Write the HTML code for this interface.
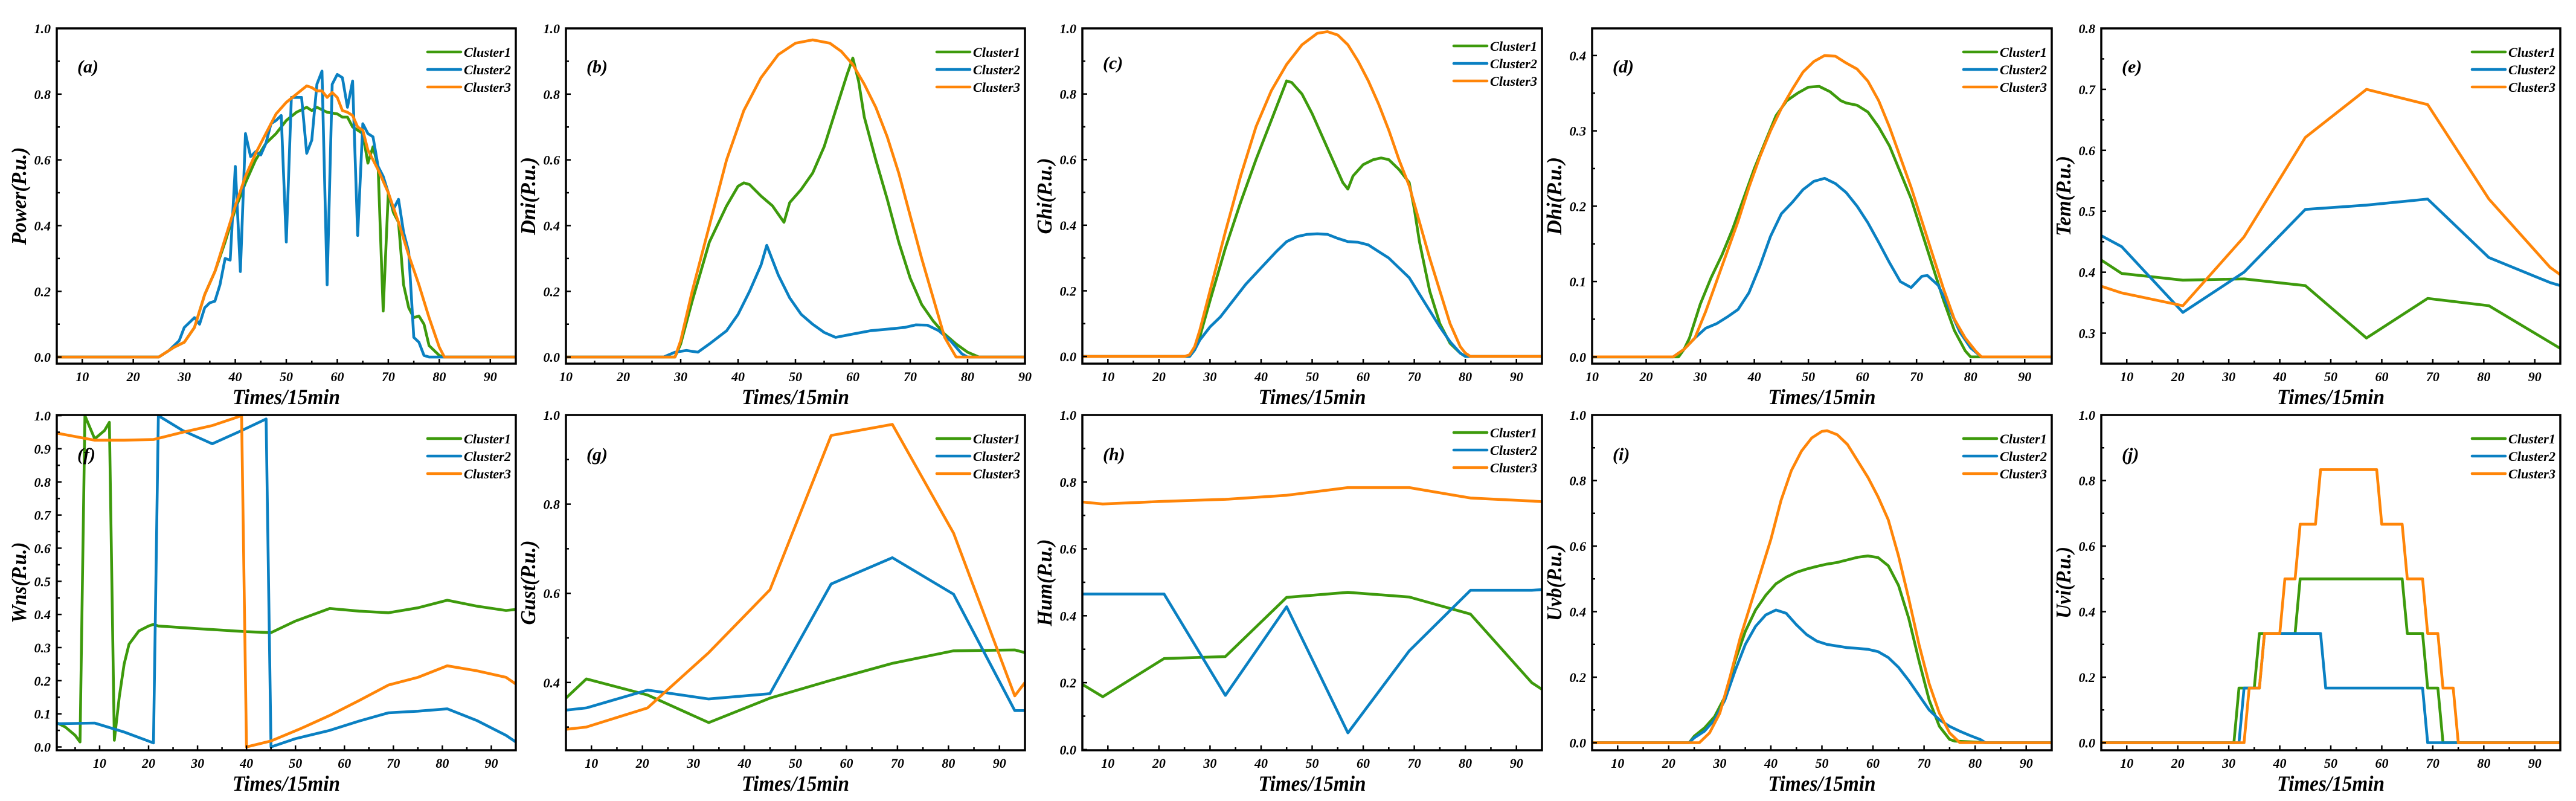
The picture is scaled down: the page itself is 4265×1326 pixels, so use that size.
<!DOCTYPE html>
<html><head><meta charset="utf-8"><title>Cluster profiles</title>
<style>
html,body{margin:0;padding:0;background:#fff;}
svg{display:block;font-family:"Liberation Serif",serif;font-weight:bold;font-style:italic;}
</style></head>
<body>
<svg id="fig" width="4265" height="1326" viewBox="0 0 4265 1326" xmlns="http://www.w3.org/2000/svg"></svg>
<script>
// ---------- data (time index, value) ----------
const powerC1=[[1,0],[25,0],[28,0.03],[30,0.045],[32,0.09],[34,0.19],[36,0.26],[38,0.35],[40,0.45],[42,0.53],[44,0.6],[46,0.65],[48,0.68],[50,0.72],[52,0.745],[54,0.76],[55,0.75],[56,0.76],[58,0.745],[60,0.74],[61,0.73],[62,0.73],[63,0.7],[65,0.68],[66,0.59],[67,0.64],[68,0.58],[69,0.14],[70,0.5],[71,0.44],[72,0.41],[73,0.22],[74,0.15],[75,0.12],[76,0.125],[77,0.1],[78,0.035],[80,0.005],[81,0],[96,0]];
const powerC2=[[1,0],[25,0],[27,0.02],[29,0.05],[30,0.09],[32,0.12],[33,0.1],[34,0.15],[35,0.165],[36,0.17],[37,0.22],[38,0.3],[39,0.295],[40,0.58],[41,0.26],[42,0.68],[43,0.61],[44,0.625],[45,0.615],[46,0.65],[47,0.71],[48,0.72],[49,0.735],[50,0.35],[51,0.79],[52,0.79],[53,0.79],[54,0.62],[55,0.66],[56,0.83],[57,0.87],[58,0.22],[59,0.83],[60,0.86],[61,0.85],[62,0.76],[63,0.84],[64,0.37],[65,0.71],[66,0.68],[67,0.67],[68,0.58],[69,0.55],[70,0.5],[71,0.45],[72,0.48],[73,0.38],[74,0.32],[75,0.06],[76,0.045],[77,0.005],[78,0],[96,0]];
const powerC3=[[1,0],[25,0],[28,0.03],[30,0.045],[32,0.09],[34,0.19],[36,0.26],[38,0.36],[40,0.46],[42,0.55],[44,0.62],[46,0.68],[48,0.74],[50,0.775],[52,0.8],[54,0.825],[55,0.82],[56,0.81],[57,0.81],[58,0.79],[59,0.805],[60,0.79],[61,0.75],[62,0.745],[63,0.735],[64,0.7],[65,0.69],[66,0.63],[68,0.57],[70,0.5],[72,0.41],[74,0.31],[76,0.22],[78,0.12],[80,0.03],[81,0],[96,0]];

const dniC1=[[1,0],[29,0],[30,0.04],[32,0.17],[35,0.35],[38,0.46],[40,0.52],[41,0.53],[42,0.525],[44,0.49],[46,0.46],[48,0.41],[49,0.47],[51,0.51],[53,0.56],[55,0.64],[57,0.75],[59,0.86],[60,0.91],[61,0.84],[62,0.73],[64,0.6],[66,0.48],[68,0.35],[70,0.24],[72,0.16],[74,0.11],[76,0.07],[78,0.04],[80,0.015],[82,0],[96,0]];
const dniC2=[[1,0],[27,0],[29,0.015],[31,0.02],[33,0.015],[35,0.04],[38,0.08],[40,0.13],[42,0.2],[44,0.28],[45,0.34],[47,0.25],[49,0.18],[51,0.13],[53,0.1],[55,0.075],[57,0.06],[60,0.07],[63,0.08],[66,0.085],[69,0.09],[71,0.098],[73,0.097],[75,0.08],[77,0.05],[79,0.01],[80,0],[96,0]];
const dniC3=[[1,0],[29,0],[30,0.05],[32,0.2],[35,0.4],[38,0.6],[41,0.75],[44,0.85],[47,0.92],[50,0.955],[53,0.965],[56,0.955],[58,0.93],[60,0.89],[62,0.83],[64,0.76],[66,0.67],[68,0.56],[70,0.43],[72,0.3],[74,0.18],[76,0.06],[78,0],[96,0]];

const ghiC1=[[1,0],[26,0],[27,0.02],[28,0.06],[30,0.17],[33,0.33],[36,0.47],[39,0.6],[42,0.72],[44,0.8],[45,0.84],[46,0.835],[48,0.8],[50,0.74],[52,0.67],[54,0.6],[56,0.53],[57,0.51],[58,0.55],[60,0.585],[62,0.6],[63.5,0.605],[65,0.6],[67,0.57],[69,0.53],[70,0.45],[71,0.35],[73,0.2],[75,0.1],[77,0.04],[79,0.01],[80,0],[96,0]];
const ghiC2=[[1,0],[26,0],[27,0.02],[28,0.05],[30,0.09],[32,0.12],[34,0.16],[37,0.22],[40,0.27],[43,0.32],[45,0.35],[47,0.365],[49,0.372],[51,0.374],[53,0.372],[55,0.36],[57,0.35],[59,0.348],[61,0.34],[63,0.32],[65,0.3],[67,0.27],[69,0.24],[71,0.19],[73,0.14],[75,0.09],[77,0.045],[79,0.01],[80,0],[96,0]];
const ghiC3=[[1,0],[25,0],[26,0.005],[27,0.03],[28,0.08],[30,0.2],[33,0.38],[36,0.55],[39,0.7],[42,0.81],[45,0.89],[48,0.95],[51,0.985],[53,0.99],[55,0.98],[57,0.95],[59,0.9],[61,0.84],[63,0.77],[65,0.69],[67,0.6],[69,0.52],[71,0.41],[73,0.3],[75,0.2],[77,0.1],[79,0.03],[80,0.01],[81,0],[96,0]];

const dhiC1=[[1,0],[26,0],[27,0.01],[28,0.025],[30,0.07],[32,0.105],[34,0.135],[36,0.17],[38,0.21],[40,0.25],[42,0.285],[44,0.32],[46,0.34],[48,0.35],[50,0.358],[52,0.359],[54,0.352],[56,0.34],[57,0.337],[59,0.334],[61,0.325],[63,0.305],[65,0.28],[67,0.245],[69,0.21],[71,0.165],[73,0.12],[75,0.075],[77,0.035],[79,0.008],[80,0],[96,0]];
const dhiC2=[[1,0],[25,0],[27,0.01],[29,0.025],[31,0.038],[33,0.044],[35,0.053],[37,0.063],[39,0.085],[41,0.12],[43,0.16],[45,0.19],[47,0.205],[49,0.222],[51,0.233],[53,0.237],[55,0.23],[57,0.218],[59,0.2],[61,0.178],[63,0.152],[65,0.125],[67,0.1],[69,0.092],[71,0.107],[72,0.108],[74,0.095],[76,0.065],[78,0.033],[80,0.012],[82,0],[96,0]];
const dhiC3=[[1,0],[25,0],[27,0.01],[29,0.025],[31,0.06],[33,0.1],[35,0.14],[37,0.18],[39,0.225],[41,0.265],[43,0.3],[45,0.33],[47,0.355],[49,0.378],[51,0.392],[53,0.4],[55,0.399],[57,0.39],[59,0.382],[61,0.366],[63,0.34],[65,0.305],[67,0.265],[69,0.225],[71,0.18],[73,0.135],[75,0.09],[77,0.05],[79,0.025],[81,0.007],[82,0],[96,0]];

const temC1=[[5,0.42],[9,0.398],[21,0.387],[33,0.389],[45,0.378],[57,0.292],[69,0.357],[81,0.345],[93,0.285],[95,0.275]];
const temC2=[[5,0.46],[9,0.442],[21,0.334],[33,0.4],[45,0.503],[57,0.51],[69,0.52],[81,0.424],[93,0.383],[95,0.378]];
const temC3=[[5,0.377],[9,0.366],[21,0.345],[33,0.458],[45,0.621],[57,0.7],[69,0.675],[81,0.52],[93,0.408],[95,0.396]];

const wnsC1=[[1,0.075],[3,0.06],[5,0.035],[6,0.015],[7,1.0],[9,0.93],[11,0.955],[12,0.98],[13,0.02],[14,0.15],[15,0.25],[16,0.31],[18,0.35],[20,0.365],[21,0.37],[22,0.365],[30,0.357],[40,0.348],[45,0.345],[50,0.38],[57,0.418],[63,0.41],[69,0.405],[75,0.42],[81,0.443],[87,0.425],[93,0.412],[95,0.415]];
const wnsC2=[[1,0.07],[9,0.072],[15,0.045],[21,0.012],[22,1.0],[27,0.955],[33,0.915],[39,0.955],[44,0.99],[45,0.0],[50,0.025],[57,0.05],[63,0.078],[69,0.103],[75,0.108],[81,0.115],[87,0.08],[93,0.035],[95,0.015]];
const wnsC3=[[1,0.948],[9,0.926],[15,0.926],[21,0.928],[27,0.95],[33,0.97],[36,0.985],[39,1.0],[40,0.0],[45,0.018],[51,0.055],[57,0.095],[63,0.14],[69,0.187],[75,0.21],[81,0.245],[87,0.23],[93,0.21],[95,0.19]];

const gustC1=[[5,0.365],[9,0.408],[21,0.372],[33,0.31],[45,0.365],[57,0.405],[69,0.443],[81,0.471],[93,0.473],[95,0.467]];
const gustC2=[[5,0.338],[9,0.343],[21,0.383],[33,0.363],[45,0.375],[57,0.621],[69,0.68],[81,0.598],[93,0.337],[95,0.337]];
const gustC3=[[5,0.295],[9,0.3],[21,0.343],[33,0.467],[45,0.608],[57,0.954],[69,0.979],[81,0.735],[93,0.37],[95,0.4]];

const humC1=[[5,0.195],[9,0.158],[21,0.272],[33,0.278],[45,0.455],[57,0.47],[69,0.456],[81,0.405],[93,0.2],[95,0.18]];
const humC2=[[5,0.465],[21,0.465],[33,0.162],[45,0.427],[57,0.05],[69,0.295],[81,0.476],[93,0.476],[95,0.478]];
const humC3=[[5,0.74],[9,0.734],[21,0.742],[33,0.748],[45,0.76],[57,0.783],[69,0.783],[81,0.752],[93,0.743],[95,0.741]];

const uvbC1=[[1,0],[24,0],[25,0.02],[27,0.045],[29,0.08],[31,0.14],[33,0.25],[35,0.34],[37,0.405],[39,0.45],[41,0.485],[43,0.505],[45,0.52],[47,0.53],[49,0.538],[51,0.545],[53,0.55],[55,0.558],[57,0.566],[59,0.57],[61,0.565],[63,0.54],[65,0.48],[67,0.38],[69,0.25],[71,0.13],[73,0.05],[75,0.01],[76,0.005],[80,0.002],[82,0],[96,0]];
const uvbC2=[[1,0],[24,0],[25,0.015],[27,0.035],[29,0.07],[31,0.13],[33,0.22],[35,0.3],[37,0.355],[39,0.39],[41,0.405],[43,0.395],[45,0.36],[47,0.33],[49,0.31],[51,0.3],[53,0.295],[55,0.29],[57,0.288],[59,0.285],[61,0.278],[63,0.26],[65,0.23],[67,0.19],[69,0.145],[71,0.1],[73,0.07],[75,0.05],[77,0.035],[79,0.022],[81,0.01],[82,0],[96,0]];
const uvbC3=[[1,0],[26,0],[28,0.03],[30,0.09],[32,0.2],[34,0.32],[36,0.42],[38,0.52],[40,0.62],[42,0.74],[44,0.83],[46,0.89],[48,0.93],[50,0.95],[51,0.952],[53,0.94],[55,0.91],[57,0.86],[59,0.81],[61,0.75],[63,0.68],[65,0.57],[67,0.44],[69,0.3],[71,0.18],[73,0.09],[75,0.03],[77,0],[96,0]];

const uviC1=[[1,0],[31,0],[32,0.1667],[35,0.1667],[36,0.3333],[43,0.3333],[44,0.5],[64,0.5],[65,0.3333],[68,0.3333],[69,0.1667],[71,0.1667],[72,0],[96,0]];
const uviC2=[[1,0],[32,0],[33,0.1667],[36,0.1667],[37,0.3333],[48,0.3333],[49,0.1667],[68,0.1667],[69,0],[96,0]];
const uviC3=[[1,0],[33,0],[34,0.1667],[36,0.1667],[37,0.3333],[40,0.3333],[41,0.5],[43,0.5],[44,0.6667],[47,0.6667],[48,0.8333],[59,0.8333],[60,0.6667],[64,0.6667],[65,0.5],[68,0.5],[69,0.3333],[71,0.3333],[72,0.1667],[74,0.1667],[75,0],[96,0]];

const seriesNames=['Cluster1','Cluster2','Cluster3'];
const xTickLabels=[10,20,30,40,50,60,70,80,90];

// ---------- layout ----------
const colors=['#3d9a0c','#0a80c2','#ff8508'];
const T1=47,B1=602,T2=687,B2=1242;
const C=[[94,854],[937,1697],[1792,2553],[2636,3397],[3479,4239]];
const panels=[
 {key:'power',lab:'(a)',yl:'Power(P.u.)',ylw:162,box:[C[0][0],T1,C[0][1],B1],xr:[5,95],yr:[-0.02,1.0],yt:[0,1,0.2,0.1],data:[powerC1,powerC2,powerC3],leg:39,labY:73},
 {key:'dni',lab:'(b)',yl:'Dni(P.u.)',ylw:129,box:[C[1][0],T1,C[1][1],B1],xr:[10,90],yr:[-0.02,1.0],yt:[0,1,0.2,0.1],data:[dniC1,dniC2,dniC3],leg:39,labY:73},
 {key:'ghi',lab:'(c)',yl:'Ghi(P.u.)',ylw:126,box:[C[2][0],T1,C[2][1],B1],xr:[5,95],yr:[-0.022,1.0],yt:[0,1,0.2,0.1],data:[ghiC1,ghiC2,ghiC3],leg:29,labY:67},
 {key:'dhi',lab:'(d)',yl:'Dhi(P.u.)',ylw:129,box:[C[3][0],T1,C[3][1],B1],xr:[10,95],yr:[-0.009,0.436],yt:[0,0.4,0.1,0.05],data:[dhiC1,dhiC2,dhiC3],leg:39,labY:73},
 {key:'tem',lab:'(e)',yl:'Tem(P.u.)',ylw:133,box:[C[4][0],T1,C[4][1],B1],xr:[5,95],yr:[0.25,0.8],yt:[0.3,0.8,0.1,0.05],data:[temC1,temC2,temC3],leg:39,labY:73},
 {key:'wns',lab:'(f)',yl:'Wns(P.u.)',ylw:134,box:[C[0][0],T2,C[0][1],B2],xr:[1.25,95],yr:[-0.01,1.002],yt:[0,1,0.1,0.05],data:[wnsC1,wnsC2,wnsC3],leg:39,labY:75},
 {key:'gust',lab:'(g)',yl:'Gust(P.u.)',ylw:140,box:[C[1][0],T2,C[1][1],B2],xr:[5,95],yr:[0.248,1.0],yt:[0.4,1,0.2,0.1],data:[gustC1,gustC2,gustC3],leg:39,labY:75},
 {key:'hum',lab:'(h)',yl:'Hum(P.u.)',ylw:144,box:[C[2][0],T2,C[2][1],B2],xr:[5,95],yr:[-0.002,1.0],yt:[0,1,0.2,0.1],data:[humC1,humC2,humC3],leg:29,labY:75},
 {key:'uvb',lab:'(i)',yl:'Uvb(P.u.)',ylw:127,box:[C[3][0],T2,C[3][1],B2],xr:[5,95],yr:[-0.023,1.0],yt:[0,1,0.2,0.1],data:[uvbC1,uvbC2,uvbC3],leg:39,labY:75},
 {key:'uvi',lab:'(j)',yl:'Uvi(P.u.)',ylw:119,box:[C[4][0],T2,C[4][1],B2],xr:[5,95],yr:[-0.023,1.0],yt:[0,1,0.2,0.1],data:[uviC1,uviC2,uviC3],leg:39,labY:75}
];

const NS='http://www.w3.org/2000/svg';
const svg=document.getElementById('fig');
function mk(tag,attrs,parent){const e=document.createElementNS(NS,tag);for(const k in attrs)e.setAttribute(k,attrs[k]);(parent||svg).appendChild(e);return e;}
const defs=mk('defs',{});

panels.forEach(p=>{
  const [L,T,R,B]=p.box;
  const sx=v=>L+(v-p.xr[0])/(p.xr[1]-p.xr[0])*(R-L);
  const sy=v=>B-(v-p.yr[0])/(p.yr[1]-p.yr[0])*(B-T);
  const g=mk('g',{});
  
  
  const cp=mk('clipPath',{id:'clip-'+p.key},defs);
  mk('rect',{x:L,y:T,width:R-L,height:B-T},cp);

  const lines=mk('g',{'clip-path':'url(#clip-'+p.key+')'},g);
  
  
  p.data.forEach((s,i)=>{
    const pts=s.map(d=>sx(d[0]).toFixed(1)+','+sy(d[1]).toFixed(1)).join(' ');
    const pl=mk('polyline',{points:pts,fill:'none',stroke:colors[i],'stroke-width':4.6,'stroke-linejoin':'round','stroke-linecap':'butt'},lines);
    
    
  });

  for(let v=5;v<=95;v+=5){
    if(v<p.xr[0]-0.01||v>p.xr[1]+0.01)continue;
    const major=v%10===0;
    const x=sx(v);
    const tk=mk('line',{x1:x,x2:x,y1:B,y2:B-(major?8:5),stroke:'#000','stroke-width':2.5},g);
    
    
  }
  xTickLabels.forEach(v=>{
    if(v<p.xr[0]-0.01||v>p.xr[1]+0.01)return;
    const t=mk('text',{x:sx(v),y:B+29,'font-size':22,'text-anchor':'middle'},g);
    t.textContent=String(v);
    
    
  });
  const [y0,y1,ymaj,ymin]=p.yt;
  const n=Math.round((y1-y0)/ymin);
  for(let k=-2;k<=n;k++){
    const v=+(y0+k*ymin).toFixed(4);
    if(v<p.yr[0]-1e-6||v>p.yr[1]+1e-6)continue;
    const major=Math.abs((v-y0)/ymaj-Math.round((v-y0)/ymaj))<1e-6&&v>=y0-1e-6;
    const y=sy(v);
    const tk=mk('line',{x1:L,x2:L+(major?8:5),y1:y,y2:y,stroke:'#000','stroke-width':2.5},g);
    
    
    if(major){
      const t=mk('text',{x:L-10,y:y+8,'font-size':22,'text-anchor':'end'},g);
      t.textContent=v.toFixed(1);
      
      
    }
  }
  const fr=mk('rect',{x:L,y:T,width:R-L,height:B-T,fill:'none',stroke:'#000','stroke-width':3.5},g);
  
  

  const xt=mk('text',{x:(L+R)/2,y:B+67,'font-size':36,'text-anchor':'middle',textLength:178,lengthAdjust:'spacingAndGlyphs'},g);
  xt.textContent='Times/15min';
  
  
  const cy=(T+B)/2, cx=L-62;
  const yt=mk('text',{x:0,y:0,'font-size':35,'text-anchor':'middle',textLength:p.ylw,lengthAdjust:'spacingAndGlyphs',transform:'translate('+(cx+11)+','+cy+') rotate(-90)'},g);
  yt.textContent=p.yl;
  
  
  const pl=mk('text',{x:L+34,y:T+p.labY,'font-size':30},g);
  pl.textContent=p.lab;
  
  

  const lg=mk('g',{},g);
  
  
  seriesNames.forEach((nm,i)=>{
    const y=T+p.leg+i*29;
    const e=mk('g',{},lg);
    
    
    mk('line',{x1:R-146,x2:R-91,y1:y,y2:y,stroke:colors[i],'stroke-width':4.6,'stroke-linecap':'round'},e);
    const t=mk('text',{x:R-86,y:y+8,'font-size':22,textLength:78,lengthAdjust:'spacingAndGlyphs'},e);
    t.textContent=nm;
  });
});
</script>
</body></html>
